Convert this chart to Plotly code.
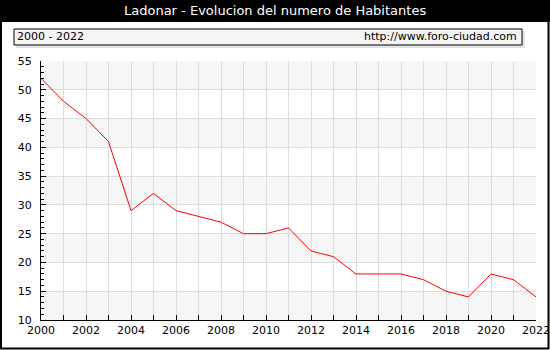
import plotly.graph_objects as go

years = list(range(2000, 2023))
habitantes = [52, 48, 45, 41, 29, 32, 29, 28, 27, 25, 25, 26, 22, 21, 18, 18, 18, 17, 15, 14, 18, 17, 14]
title_text = "Ladonar - Evolucion del numero de Habitantes"
range_text = "2000 - 2022"
url_text = "http://www.foro-ciudad.com"

W, H = 550, 350
L, R, T, B = 41, 14, 61, 30
PW, PH = W - L - R, H - T - B

def px(x):
    return (x - L) / PW

def py(y):
    return 1 - (y - T) / PH

FONT = "DejaVu Sans"

fig = go.Figure()
fig.add_trace(go.Scatter(x=years, y=habitantes, mode="lines",
                         line=dict(color="#ff0000", width=1), hoverinfo="skip"))

shapes = []
for lo in range(10, 55, 10):
    shapes.append(dict(type="rect", xref="paper", yref="y", x0=0, x1=1, y0=lo, y1=lo + 5,
                       fillcolor="#f6f6f6", line=dict(width=0), layer="below"))
shapes.append(dict(type="rect", xref="paper", yref="y", x0=0, x1=1, y0=50, y1=55,
                   fillcolor="#f6f6f6", line=dict(width=0), layer="below"))
shapes.append(dict(type="rect", xref="paper", yref="paper", x0=px(0), x1=px(W), y0=py(22), y1=py(0),
                   fillcolor="black", line=dict(width=0)))
shapes.append(dict(type="rect", xref="paper", yref="paper", x0=px(1), x1=px(W - 1.5), y0=py(H - 1.5), y1=py(0),
                   fillcolor="rgba(0,0,0,0)", line=dict(color="black", width=2)))
shapes.append(dict(type="rect", xref="paper", yref="paper", x0=px(16), x1=px(525), y0=py(48), y1=py(31),
                   fillcolor="#e4e4e4", line=dict(width=0)))
shapes.append(dict(type="rect", xref="paper", yref="paper", x0=px(14), x1=px(522), y0=py(45), y1=py(29),
                   fillcolor="#f4f4f4", line=dict(color="black", width=1)))

annotations = [
    dict(text=title_text, xref="paper", yref="paper", x=px(W / 2), y=py(11), showarrow=False,
         font=dict(family=FONT, size=13, color="white"), xanchor="center", yanchor="middle"),
    dict(text=range_text, xref="paper", yref="paper", x=px(15), y=py(37), showarrow=False,
         font=dict(family=FONT, size=11, color="black"), xanchor="left", yanchor="middle"),
    dict(text=url_text, xref="paper", yref="paper", x=px(519), y=py(37), showarrow=False,
         font=dict(family=FONT, size=11, color="black"), xanchor="right", yanchor="middle"),
]

fig.update_layout(
    width=W, height=H, autosize=False,
    margin=dict(l=L, r=R, t=T, b=B, pad=0, autoexpand=False),
    paper_bgcolor="white", plot_bgcolor="white",
    showlegend=False,
    shapes=shapes, annotations=annotations,
    font=dict(family=FONT, size=11, color="black"),
    xaxis=dict(range=[2000, 2022], tickmode="linear", tick0=2000, dtick=2,
               automargin=False,
               showgrid=True, gridcolor="#dcdcdc", gridwidth=1,
               showline=True, linecolor="black", linewidth=1,
               ticks="inside", ticklen=5, tickcolor="black",
               minor=dict(dtick=1, ticks="inside", ticklen=5, tickcolor="black",
                          showgrid=True, gridcolor="#dcdcdc"),
               zeroline=False, tickfont=dict(family=FONT, size=11)),
    yaxis=dict(range=[10, 55], tickmode="linear", tick0=10, dtick=5,
               automargin=False,
               showgrid=True, gridcolor="#dcdcdc", gridwidth=1,
               showline=True, linecolor="black", linewidth=1,
               ticks="inside", ticklen=5, tickcolor="black",
               ticklabelstandoff=6,
               minor=dict(dtick=1, ticks="inside", ticklen=3, tickcolor="black", showgrid=False),
               zeroline=False, tickfont=dict(family=FONT, size=11)),
)

fig.write_html("out.html", config={"displayModeBar": False, "responsive": False},
               post_script=("document.documentElement.style.overflow='hidden';"
                            "document.body.style.overflow='hidden';"
                            "document.body.style.margin='0';document.body.style.padding='0';"))
